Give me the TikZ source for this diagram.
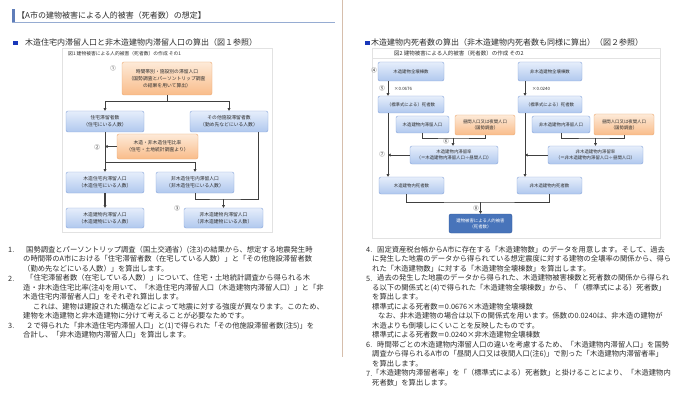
\documentclass[tikz,border=0pt]{standalone}
\usepackage{fontspec}
\setmainfont{Noto Sans CJK JP}
\usepackage{xcolor}
\usetikzlibrary{
    arrows.meta,
    positioning
}

\definecolor{bluetop}{RGB}{230,238,251}
\definecolor{bluebot}{RGB}{176,200,238}
\definecolor{blueline}{RGB}{135,165,218}
\definecolor{orangetop}{RGB}{253,234,216}
\definecolor{orangebot}{RGB}{249,188,138}
\definecolor{orangeline}{RGB}{236,168,112}
\definecolor{darkfill}{RGB}{72,116,186}
\definecolor{darkline}{RGB}{48,88,155}
\definecolor{wiregray}{RGB}{64,64,64}
\definecolor{bodytext}{RGB}{45,45,45}
\definecolor{colrule}{RGB}{214,190,172}
\definecolor{squareblue}{RGB}{25,55,185}
\definecolor{headbar}{RGB}{95,125,185}
\definecolor{headrule}{RGB}{150,172,210}
\definecolor{framegray}{RGB}{226,226,226}

\begin{document}
\begin{tikzpicture}[x=1pt, y=-1pt,
    every node/.style={text=bodytext},
    bluebox/.style={draw=blueline, rounded corners=2pt, top color=bluetop, bottom color=bluebot, align=center, inner sep=0pt},
    orangebox/.style={draw=orangeline, rounded corners=2pt, top color=orangetop, bottom color=orangebot, align=center, inner sep=0pt},
    figa/.style={font=\fontsize{4.8}{6.8}\selectfont},
    figb/.style={font=\fontsize{4.4}{6}\selectfont},
    wire/.style={draw=wiregray, line width=0.8pt},
    arr/.style={wire, -{Triangle[length=2.6pt,width=2.8pt]}},
    num/.style={font=\fontsize{5.5}{6}\selectfont, inner sep=0pt},
    para/.style={anchor=north west, align=left, inner sep=0pt, font=\fontsize{7.3}{9.5}\selectfont},
    itemno/.style={anchor=base west, inner sep=0pt, font=\fontsize{7.3}{9.5}\selectfont},
    heading/.style={anchor=west, inner sep=0pt, font=\fontsize{8}{9}\selectfont},
]
\useasboundingbox (0,0) rectangle (685,417);
\fill[white] (0,0) rectangle (685,417);

% page layout
\draw[colrule, line width=0.8pt] (342,0) -- (342,357);
\fill[headbar] (12,9) rectangle (15,22);
\draw[headrule, line width=0.7pt] (12,22.5) -- (335,22.5);
\node[heading] (title) at (17,15.5) {【A市の建物被害による人的被害（死者数）の想定】};

\fill[squareblue] (13,40.7) rectangle (17.5,45.2);
\node[heading] (secA) at (25,42.8) {木造住宅内滞留人口と非木造建物内滞留人口の算出（図１参照）};
\fill[squareblue] (365,40.7) rectangle (369.5,45.2);
\node[heading] (secB) at (371,42.8) {木造建物内死者数の算出（非木造建物内死者数も同様に算出）（図２参照）};

% figure 1
\draw[framegray] (62,48) rectangle (272,232);
\node[anchor=west, inner sep=0pt, font=\fontsize{4.8}{5}\selectfont] (capA) at (68,53.5) {図1\ 建物被害による人的被害（死者数）の作成\ その1};

\node[orangebox, figa, minimum width=90, minimum height=33] (popbox) at (167,78.5)
    {時間帯別・施設別の滞留人口\\（国勢調査とパーソントリップ調査\\の結果を用いて算出）};
\node[bluebox, figa, minimum width=78, minimum height=21] (homebox) at (105,121.5)
    {住宅滞留者数\\（住宅にいる人数）};
\node[bluebox, figa, minimum width=78, minimum height=21] (otherbox) at (229,121.5)
    {その他施設滞留者数\\（勤め先などにいる人数）};
\node[orangebox, figa, minimum width=81, minimum height=25] (ratiobox) at (157.5,146.5)
    {木造・非木造住宅比率\\（住宅・土地統計調査より）};
\node[bluebox, figa, minimum width=78, minimum height=21] (woodhome) at (105,182.5)
    {木造住宅内滞留人口\\（木造住宅にいる人数）};
\node[bluebox, figa, minimum width=78, minimum height=21] (nonwoodhome) at (195,182.5)
    {非木造住宅内滞留人口\\（非木造住宅にいる人数）};
\node[bluebox, figa, minimum width=78, minimum height=20] (woodbldg) at (105,218)
    {木造建物内滞留人口\\（木造建物にいる人数）};
\node[bluebox, figa, minimum width=79, minimum height=20] (nonwoodbldg) at (223.5,218)
    {非木造建物内滞留人口\\（非木造建物にいる人数）};

\node[num] (n1) at (113,68) {①};
\node[num] (n2) at (97,147) {②};
\node[num] (n3) at (177,208) {③};

\coordinate (s1) at (167,101);
\draw[wire] (popbox.south) -- (s1);
\draw[arr] (s1) -| (homebox.north);
\draw[arr] (s1) -| (otherbox.north);
\coordinate (s2) at (105,162);
\draw[wire] (homebox.south) -- (s2);
\draw[arr] (s2) -- (woodhome.north);
\draw[arr] (s2) -| (nonwoodhome.north);
\draw[arr] (ratiobox.west) -- (ratiobox.west -| homebox.south);
\draw[arr, line width=1.2pt] (woodhome.south) -- (woodbldg.north);
\coordinate (s3) at (223.5,199);
\draw[wire] (nonwoodhome.south) |- (s3) -| ([xshift=29pt]otherbox.south);
\draw[arr] (s3) -- (nonwoodbldg.north);

% figure 2
\draw[framegray] (372,48) rectangle (660,238);
\draw[framegray] (372,58.5) -- (660,58.5);
\node[anchor=west, inner sep=0pt, font=\fontsize{5.5}{6}\selectfont] (capB) at (394,53) {図2\ 建物被害による人的被害（死者数）の作成\ その2};

\node[bluebox, figb, minimum width=66, minimum height=19] (woodall) at (411,71.5) {木造建物全壊棟数};
\node[bluebox, figb, minimum width=66, minimum height=17] (wooddeadstd) at (411,104.5) {（標準式による）死者数};
\node[bluebox, figb, minimum width=53, minimum height=17] (woodstay) at (422.5,124.5) {木造建物内滞留人口};
\node[orangebox, figb, minimum width=60, minimum height=20] (woodpop) at (485,125) {昼間人口又は夜間人口\\（国勢調査）};
\node[bluebox, figb, minimum width=88, minimum height=18] (woodrate) at (454,155) {木造建物内滞留率\\（＝木造建物内滞留人口÷昼間人口）};
\node[bluebox, figb, minimum width=65, minimum height=17] (wooddead) at (411.5,185.5) {木造建物内死者数};

\node[bluebox, figb, minimum width=64, minimum height=19] (nonwoodall) at (550,71.5) {非木造建物全壊棟数};
\node[bluebox, figb, minimum width=64, minimum height=17] (nonwooddeadstd) at (550,104.5) {（標準式による）死者数};
\node[bluebox, figb, minimum width=58, minimum height=17] (nonwoodstay) at (561,124.5) {非木造建物内滞留人口};
\node[orangebox, figb, minimum width=60, minimum height=21] (nonwoodpop) at (624,124.5) {昼間人口又は夜間人口\\（国勢調査）};
\node[bluebox, figb, minimum width=95, minimum height=18] (nonwoodrate) at (595.5,155) {非木造建物内滞留率\\（＝非木造建物内滞留人口÷昼間人口）};
\node[bluebox, figb, minimum width=65, minimum height=17] (nonwooddead) at (549.5,185.5) {非木造建物内死者数};

\node[figb, draw=darkline, fill=darkfill, text=white, rounded corners=2pt, align=center, inner sep=0pt,
      minimum width=63, minimum height=19] (total) at (480.5,223.5) {建物被害による人的被害\\（死者数）};

\node[figb, anchor=west, inner sep=0pt] (coefw) at (394,89) {×0.0676};
\node[figb, anchor=west, inner sep=0pt] (coefn) at (532,89) {×0.0240};

\node[num] (n4) at (374,70) {④};
\node[num] (n5) at (382,88) {⑤};
\node[num] (n6) at (446,141.5) {⑥};
\node[num] (n7) at (382,154) {⑦};
\node[num] (n8) at (476,208) {⑧};

% wooden side
\coordinate (colw) at ([xshift=-23pt]wooddeadstd.south);
\draw[arr] ([xshift=-23pt]woodall.south) -- ([xshift=-23pt]wooddeadstd.north);
\draw[arr] (colw) -- (colw |- wooddead.north);
\coordinate (jw) at (453,138);
\draw[wire] (woodstay.south) |- (jw) -| (woodpop.south);
\draw[arr] (jw) -- (jw |- woodrate.north);
\draw[arr] (woodrate.west) -- (woodrate.west -| colw);

% non-wooden side
\coordinate (coln) at ([xshift=-25pt]nonwooddeadstd.south);
\draw[arr] ([xshift=-25pt]nonwoodall.south) -- ([xshift=-25pt]nonwooddeadstd.north);
\draw[arr] (coln) -- (coln |- nonwooddead.north);
\coordinate (jn) at (595.5,138);
\draw[wire] (nonwoodstay.south) |- (jn) -| (nonwoodpop.south);
\draw[arr] (jn) -- (nonwoodrate.north);
\draw[arr] (nonwoodrate.west) -- (nonwoodrate.west -| coln);

% both to total
\coordinate (jt) at (480.5,202);
\draw[wire] ([xshift=-5.5pt]wooddead.south) |- (jt) -| (nonwooddead.south);
\draw[arr] (jt) -- (total.north);

% text, left column
\node[itemno] (i1) at (8,252.8) {1.};
\node[para] (p1) at (23,245.8) {\hspace{3pt}国勢調査とパーソントリップ調査（国土交通省）(注3)の結果から、想定する地震発生時\\
の時間帯のA市における「住宅滞留者数（在宅している人数）」と「その他施設滞留者数\\
（勤め先などにいる人数）」を算出します。};
\node[itemno] (i2) at (8,281.3) {2.};
\node[para] (p2) at (23,274.3) {\hspace{3pt}「住宅滞留者数（在宅している人数）」について、住宅・土地統計調査から得られる木\\
造・非木造住宅比率(注4)を用いて、「木造住宅内滞留人口（木造建物内滞留人口）」と「非\\
木造住宅内滞留者人口」をそれぞれ算出します。\\
\hspace{10pt}これは、建物は建設された構造などによって地震に対する強度が異なります。このため、\\
建物を木造建物と非木造建物に分けて考えることが必要なためです。};
\node[itemno] (i3) at (8,328.8) {3.};
\node[para] (p3) at (23,321.8) {\hspace{3pt}２で得られた「非木造住宅内滞留人口」と(1)で得られた「その他施設滞留者数(注5)」を\\
合計し、「非木造建物内滞留人口」を算出します。};

% text, right column
\node[itemno] (i4) at (366,252.8) {4.};
\node[para] (p4) at (372,245.8) {\hspace{5pt}固定資産税台帳からA市に存在する「木造建物数」のデータを用意します。そして、過去\\
に発生した地震のデータから得られている想定震度に対する建物の全壊率の関係から、得ら\\
れた「木造建物数」に対する「木造建物全壊棟数」を算出します。};
\node[itemno] (i5) at (366,281.3) {5.};
\node[para] (p5) at (372,274.3) {\hspace{5pt}過去の発生した地震のデータから得られた、木造建物被害棟数と死者数の関係から得られ\\
る以下の関係式と(4)で得られた「木造建物全壊棟数」から、「（標準式による）死者数」\\
を算出します。\\
標準式による死者数＝0.0676×木造建物全壊棟数\\
\hspace{6pt}なお、非木造建物の場合は以下の関係式を用います。係数の0.0240は、非木造の建物が\\
木造よりも倒壊しにくいことを反映したものです。\\
標準式による死者数＝0.0240×非木造建物全壊棟数};
\node[itemno] (i6) at (366,347.8) {6.};
\node[para] (p6) at (372,340.8) {\hspace{5pt}時間帯ごとの木造建物内滞留人口の違いを考慮するため、「木造建物内滞留人口」を国勢\\
調査から得られるA市の「昼間人口又は夜間人口(注6)」で割った「木造建物内滞留者率」\\
を算出します。};
\node[itemno] (i7) at (366,376.3) {7.};
\node[para] (p7) at (372,369.3) {「木造建物内滞留者率」を「（標準式による）死者数」と掛けることにより、「木造建物内\\
死者数」を算出します。};
\end{tikzpicture}
\end{document}
